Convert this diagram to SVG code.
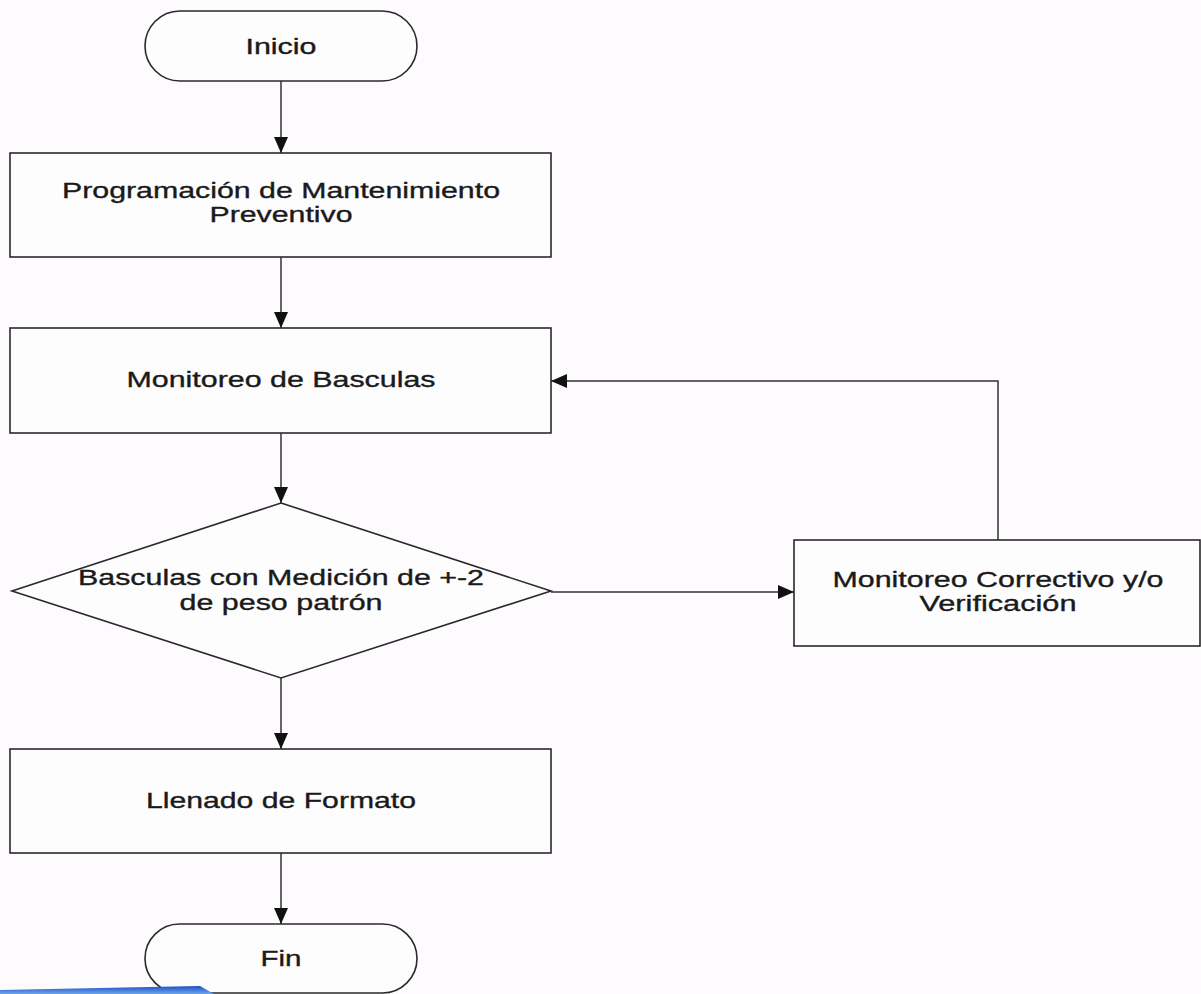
<svg xmlns="http://www.w3.org/2000/svg" width="1201" height="994" viewBox="0 0 1201 994">
<style>
.shape{fill:#fefdfe;stroke:#2a2a2a;stroke-width:1.6}
.conn{fill:none;stroke:#333;stroke-width:1.5}
.lbl{font-family:"Liberation Sans",Arial,sans-serif;font-size:22px;fill:#1a1a1a;stroke:#1a1a1a;stroke-width:0.35;text-anchor:middle}
</style>
<defs>
<marker id="arr" viewBox="0 0 16 14" refX="16" refY="7" markerWidth="16" markerHeight="14" markerUnits="userSpaceOnUse" orient="auto">
<path d="M0,0 L16,7 L0,14 Z" fill="#111"/>
</marker>
<linearGradient id="blue" x1="0" y1="0" x2="0" y2="1">
<stop offset="0" stop-color="#1a4fc4"/>
<stop offset="1" stop-color="#6fa6ee"/>
</linearGradient>
</defs>
<rect width="1201" height="994" fill="#fdfbfd"/>
<g id="connectors">
<line class="conn" x1="281" y1="81" x2="281" y2="153" marker-end="url(#arr)"/>
<line class="conn" x1="281" y1="257" x2="281" y2="328" marker-end="url(#arr)"/>
<line class="conn" x1="281" y1="433" x2="281" y2="503" marker-end="url(#arr)"/>
<line class="conn" x1="551" y1="592" x2="794" y2="592" marker-end="url(#arr)"/>
<polyline class="conn" points="998,540 998,381 551,381" marker-end="url(#arr)"/>
<line class="conn" x1="281" y1="678" x2="281" y2="749" marker-end="url(#arr)"/>
<line class="conn" x1="281" y1="853" x2="281" y2="924" marker-end="url(#arr)"/>
</g>
<g id="inicio">
<rect class="shape" x="145" y="11" width="272" height="70" rx="35" ry="35"/>
<text class="lbl" x="281" y="54" textLength="71" lengthAdjust="spacingAndGlyphs">Inicio</text>
</g>
<g id="programacion">
<rect class="shape" x="10" y="153" width="541" height="104"/>
<text class="lbl" x="281" y="198" textLength="438" lengthAdjust="spacingAndGlyphs">Programación de Mantenimiento</text>
<text class="lbl" x="281" y="222" textLength="143" lengthAdjust="spacingAndGlyphs">Preventivo</text>
</g>
<g id="monitoreo">
<rect class="shape" x="10" y="328" width="541" height="105"/>
<text class="lbl" x="281" y="387" textLength="309" lengthAdjust="spacingAndGlyphs">Monitoreo de Basculas</text>
</g>
<g id="decision">
<polygon class="shape" points="281,503 551,591 281,678 12,591"/>
<text class="lbl" x="281" y="585" textLength="406" lengthAdjust="spacingAndGlyphs">Basculas con Medición de +-2</text>
<text class="lbl" x="281" y="610" textLength="203" lengthAdjust="spacingAndGlyphs">de peso patrón</text>
</g>
<g id="correctivo">
<rect class="shape" x="794" y="540" width="406" height="106"/>
<text class="lbl" x="998" y="587" textLength="331" lengthAdjust="spacingAndGlyphs">Monitoreo Correctivo y/o</text>
<text class="lbl" x="998" y="611" textLength="157" lengthAdjust="spacingAndGlyphs">Verificación</text>
</g>
<g id="llenado">
<rect class="shape" x="10" y="749" width="541" height="104"/>
<text class="lbl" x="281" y="808" textLength="270" lengthAdjust="spacingAndGlyphs">Llenado de Formato</text>
</g>
<g id="fin">
<rect class="shape" x="145" y="924" width="272" height="69" rx="34.5" ry="34.5"/>
<text class="lbl" x="281" y="966" textLength="41" lengthAdjust="spacingAndGlyphs">Fin</text>
</g>
<polygon points="0,990 200,986 214,994 0,994" fill="url(#blue)"/>
</svg>
